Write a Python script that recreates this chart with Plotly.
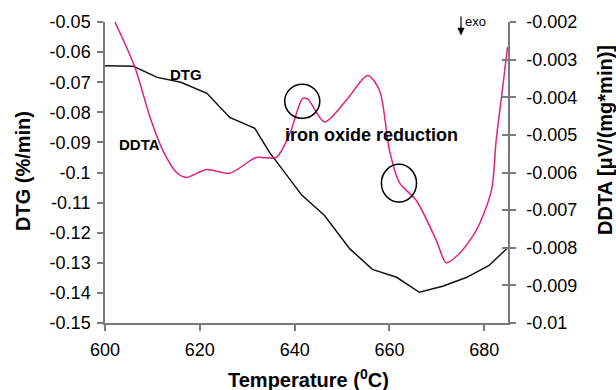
import plotly.graph_objects as go

# DTG curve (left axis, %/min)
dtg_temp = [600, 606, 611, 616, 621.5, 626.3, 631.6, 634.7, 641.5, 646.3, 651.6,
            656.4, 661.5, 666.3, 671.2, 676.2, 681, 685]
dtg_val = [-0.0645, -0.0647, -0.0684, -0.0700, -0.0737, -0.0817, -0.0853, -0.0933,
           -0.1075, -0.1143, -0.1253, -0.1322, -0.1348, -0.1398, -0.1378, -0.1349,
           -0.1309, -0.1249]

# DDTA curve (right axis, uV/(mg*min))
ddta_temp = [602.1, 606.3, 609.5, 612.2, 615.1, 617.2, 621.4, 626.3, 631.9, 636.1,
             639, 641.7, 642.8, 646.3, 650.9, 655.4, 657.9, 660, 662.1, 665.7,
             669.9, 672, 674.7, 678.3, 681.5, 682.5, 683.8, 684.9]
ddta_val = [-0.0020, -0.0032, -0.00453, -0.00541, -0.0060, -0.00613, -0.00592,
            -0.00602, -0.0056, -0.0056, -0.00496, -0.00403, -0.00405, -0.00466,
            -0.00408, -0.00342, -0.00382, -0.00541, -0.00627, -0.00675, -0.00781,
            -0.0084, -0.00816, -0.00754, -0.00648, -0.00515, -0.00382, -0.00267]

x_ticks = [600, 620, 640, 660, 680]
left_ticks = [-0.05, -0.06, -0.07, -0.08, -0.09, -0.10, -0.11, -0.12, -0.13, -0.14, -0.15]
left_labels = ["-0.05", "-0.06", "-0.07", "-0.08", "-0.09", "-0.1", "-0.11", "-0.12",
               "-0.13", "-0.14", "-0.15"]
right_ticks = [-0.002, -0.003, -0.004, -0.005, -0.006, -0.007, -0.008, -0.009, -0.010]
right_labels = ["-0.002", "-0.003", "-0.004", "-0.005", "-0.006", "-0.007", "-0.008",
                "-0.009", "-0.01"]

FONT = "Arial, Liberation Sans, sans-serif"
AX = "#7a7a7a"
MAG = "#E0207F"

# plot-area pixel geometry (for decorations in paper coords)
L, R, T, B = 105, 508, 22, 323


def px(xp):
    return (xp - L) / (R - L)


def py(yp):
    return 1 - (yp - T) / (B - T)


fig = go.Figure()
fig.add_trace(go.Scatter(x=dtg_temp, y=dtg_val, mode="lines",
                         line=dict(color="#111111", width=1.5), yaxis="y",
                         showlegend=False))
fig.add_trace(go.Scatter(x=ddta_temp, y=ddta_val, mode="lines",
                         line=dict(color=MAG, width=1.5, shape="spline", smoothing=0.8),
                         yaxis="y2", showlegend=False))
fig.add_trace(go.Scatter(x=[None], y=[None], yaxis="y3", showlegend=False, hoverinfo="skip"))

fig.update_layout(
    width=616, height=390,
    margin=dict(l=L, r=616 - R, t=T, b=390 - B),
    paper_bgcolor="white", plot_bgcolor="white",
    font=dict(family=FONT, size=18, color="black"),
    xaxis=dict(range=[600, 685], tickvals=x_ticks, ticktext=[str(v) for v in x_ticks],
               showgrid=False, zeroline=False, showline=True, linecolor=AX, linewidth=1.5,
               ticks="outside", ticklen=6, tickcolor=AX, tickwidth=1.5,
               ticklabelstandoff=4, tickfont=dict(size=18)),
    yaxis=dict(range=[-0.15, -0.05], tickvals=left_ticks, ticktext=left_labels,
               showgrid=False, zeroline=False, showline=True, linecolor=AX, linewidth=1.5,
               ticks="outside", ticklen=6, tickcolor=AX, tickwidth=1.5,
               ticklabelstandoff=3, tickfont=dict(size=18)),
    yaxis2=dict(range=[-0.010, -0.002], tickvals=right_ticks, ticktext=right_labels,
                overlaying="y", side="right", anchor="x",
                showgrid=False, zeroline=False, showline=True, linecolor=AX, linewidth=1.5,
                ticks="outside", ticklen=6, tickcolor=AX, tickwidth=1.5,
                ticklabelstandoff=7, tickfont=dict(size=18)),
    yaxis3=dict(range=[-0.010, -0.002], tickvals=right_ticks, showticklabels=False,
                overlaying="y", side="right", anchor="x",
                showgrid=False, zeroline=False, showline=False,
                ticks="inside", ticklen=6, tickcolor=AX, tickwidth=1.5),
)

ann = []
ann.append(dict(text="<b>DTG (%/min)</b>", xref="paper", yref="paper", x=px(23), y=py(171),
                textangle=-90, showarrow=False, font=dict(size=20), xanchor="center",
                yanchor="middle"))
ann.append(dict(text="<b>DDTA [μV/(mg*min)]</b>", xref="paper", yref="paper", x=px(605),
                y=py(140), textangle=-90, showarrow=False, font=dict(size=20),
                xanchor="center", yanchor="middle"))
ann.append(dict(text="<b>Temperature (<sup>0</sup>C)</b>", xref="paper", yref="paper",
                x=px(308), y=py(378), showarrow=False, font=dict(size=20),
                xanchor="center", yanchor="middle"))
ann.append(dict(text="<b>DTG</b>", xref="x", yref="y", x=617.05, y=-0.0674,
                showarrow=False, font=dict(size=15)))
ann.append(dict(text="<b>DDTA</b>", xref="x", yref="y", x=607.2, y=-0.0906,
                showarrow=False, font=dict(size=15)))
ann.append(dict(text="<b>iron oxide reduction</b>", xref="x", yref="y", x=656.2, y=-0.0877,
                showarrow=False, font=dict(size=18)))
ann.append(dict(text="exo", xref="paper", yref="paper", x=px(463), y=py(21),
                xanchor="left", yanchor="middle", showarrow=False, font=dict(size=13)))
fig.update_layout(annotations=ann)

# exo arrow (line + head)
fig.add_shape(type="line", xref="paper", yref="paper", x0=px(461), x1=px(461),
              y0=py(16.5), y1=py(30), line=dict(color="black", width=1.2))
fig.add_shape(type="path", xref="paper", yref="paper",
              path=f"M {px(457.8)} {py(28)} L {px(464.2)} {py(28)} L {px(461)} {py(35)} Z",
              fillcolor="black", line=dict(color="black", width=0.5))

# circles marking features
fig.add_shape(type="circle", xref="x", yref="y", x0=637.9, x1=645.3, y0=-0.082, y1=-0.0707,
              line=dict(color="black", width=1.5))
fig.add_shape(type="circle", xref="x", yref="y", x0=658.3, x1=665.7, y0=-0.1098, y1=-0.0973,
              line=dict(color="black", width=1.5))

fig.write_html("out.html")
